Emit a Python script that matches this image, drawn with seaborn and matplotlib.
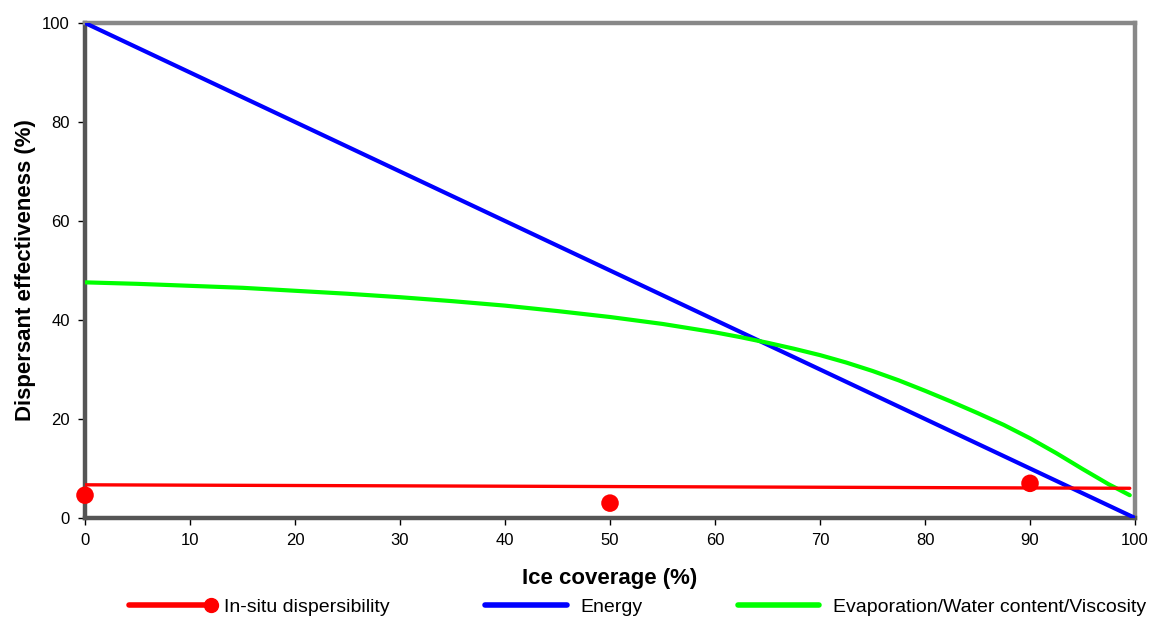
import matplotlib
matplotlib.use("Agg")
import matplotlib.pyplot as plt
import seaborn as sns
from matplotlib.lines import Line2D
from matplotlib.legend_handler import HandlerBase

# Measured in-situ dispersibility
insitu_x = [0, 50, 90]
insitu_y = [4.6, 3.0, 7.0]

# Linear trend through the in-situ series
insitu_trend_x = [0, 99.5]
insitu_trend_y = [6.7, 6.0]

# Energy-limited effectiveness
energy_x = [0, 100]
energy_y = [100, 0]

# Evaporation / water content / viscosity curve
evap_x = [0, 5, 10, 15, 20, 25, 30, 35, 40, 45, 50, 55, 60, 62.5, 65, 67.5, 70,
          72.5, 75, 77.5, 80, 82.5, 85, 87.5, 90, 92.5, 95, 97.5, 99.5]
evap_y = [47.6, 47.3, 46.9, 46.5, 45.9, 45.3, 44.6, 43.8, 42.9, 41.8, 40.6, 39.2,
          37.5, 36.5, 35.4, 34.2, 32.9, 31.4, 29.7, 27.8, 25.7, 23.5, 21.2, 18.8,
          16.1, 13.1, 9.9, 6.8, 4.6]

labels = ["In-situ dispersibility", "Energy", "Evaporation/Water content/Viscosity"]
x_ticks = list(range(0, 101, 10))
y_ticks = list(range(0, 101, 20))

RED, BLUE, GREEN = "#FF0000", "#0000FF", "#00FF00"

sns.set_theme(style="white")
plt.rcParams["font.family"] = ["Liberation Sans", "DejaVu Sans"]
plt.rcParams["text.color"] = "black"
plt.rcParams["axes.labelcolor"] = "black"

fig = plt.figure(figsize=(11.55, 6.21), dpi=100)
ax = fig.add_axes([0.0736, 0.1659, 0.9091, 0.7971])

sns.lineplot(x=energy_x, y=energy_y, ax=ax, color=BLUE, lw=3.0, legend=False, zorder=3)
sns.lineplot(x=evap_x, y=evap_y, ax=ax, color=GREEN, lw=3.0, legend=False, zorder=3)
sns.lineplot(x=insitu_trend_x, y=insitu_trend_y, ax=ax, color=RED, lw=2.4, legend=False, zorder=4)
sns.scatterplot(x=insitu_x, y=insitu_y, ax=ax, color=RED, s=160, edgecolor="none",
                legend=False, zorder=5, clip_on=False)

ax.set_xlim(0, 100)
ax.set_ylim(0, 100)
ax.set_xticks(x_ticks)
ax.set_yticks(y_ticks)
ax.tick_params(axis="both", direction="out", length=5, width=1, color="black",
               labelsize=12, labelcolor="black", pad=6)
ax.tick_params(axis="both", which="both", bottom=True, left=True, top=False, right=False)

for side in ["top", "right"]:
    ax.spines[side].set_color("#888888")
    ax.spines[side].set_linewidth(3.2)
for side in ["left", "bottom"]:
    ax.spines[side].set_color("#555555")
    ax.spines[side].set_linewidth(3.2)

ax.set_xlabel("Ice coverage (%)", fontsize=16, fontweight="bold", labelpad=14, color="black")
ax.set_ylabel("Dispersant effectiveness (%)", fontsize=16, fontweight="bold", labelpad=4,
              color="black")


class LineEndDotHandler(HandlerBase):
    """Legend key: a line with a round marker sitting at its right end."""

    def create_artists(self, legend, orig_handle, xdescent, ydescent, width,
                       height, fontsize, trans):
        y = height / 2 - ydescent
        x0, x1 = -xdescent, width - xdescent
        line = Line2D([x0, x1], [y, y], color=orig_handle.get_color(), lw=4)
        dot = Line2D([x1], [y], marker="o", markersize=10, ls="none",
                     color=orig_handle.get_color())
        line.set_transform(trans)
        dot.set_transform(trans)
        return [line, dot]


h_insitu = Line2D([], [], color=RED, lw=4, marker="o")
h_energy = Line2D([], [], color=BLUE, lw=4)
h_evap = Line2D([], [], color=GREEN, lw=4)

leg = fig.legend([h_insitu, h_energy, h_evap], labels, loc="center",
                 bbox_to_anchor=(0.552, 0.0225), ncol=3, frameon=False, fontsize=14,
                 handlelength=4.2, handletextpad=0.7, columnspacing=4.9,
                 handler_map={h_insitu: LineEndDotHandler()})
for t in leg.get_texts():
    t.set_color("black")

fig.savefig("out.png", dpi=100)
